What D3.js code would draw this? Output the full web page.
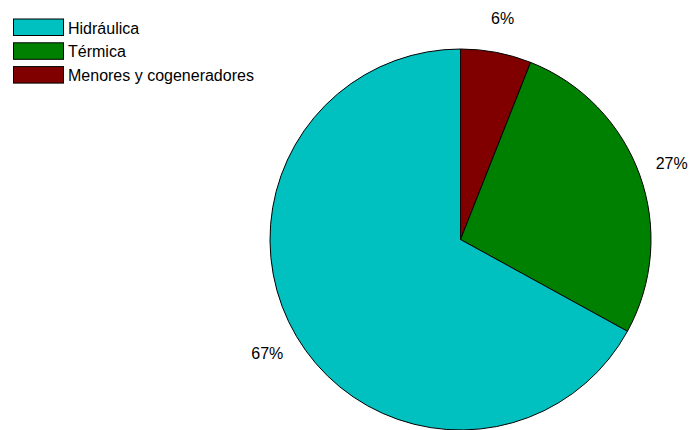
<!DOCTYPE html>
<html>
<head>
<meta charset="utf-8">
<script src="https://cdn.jsdelivr.net/npm/d3@7/dist/d3.min.js"></script>
<style>
  html, body { margin: 0; padding: 0; background: #fff; }
  svg { display: block; font-family: "Liberation Sans", Arial, sans-serif; }
</style>
</head>
<body>
<svg id="chart" width="694" height="430"></svg>
<script>
// Generation shares (percent)
const categories = ["Hidráulica", "Térmica", "Menores y cogeneradores"];
const values = [67, 27, 6];
const colors = ["#00C0C0", "#008000", "#800000"];
const labels = ["67%", "27%", "6%"];

const svg = d3.select("#chart");
const cx = 460.5, cy = 239.5, R = 190.5;

// Slices run clockwise from 12 o'clock: smallest first, largest last
const order = [2, 1, 0];
const pie = d3.pie().sort(null).value(i => values[i]);
const arcs = pie(order);

const arc = d3.arc().innerRadius(0).outerRadius(R);
const labelArc = d3.arc().innerRadius(R + 34).outerRadius(R + 34);

const g = svg.append("g").attr("transform", `translate(${cx},${cy})`);

g.selectAll("path.slice")
  .data(arcs)
  .join("path")
  .attr("class", "slice")
  .attr("d", arc)
  .attr("fill", d => colors[d.data])
  .attr("stroke", "#000")
  .attr("stroke-width", 1)
  .attr("stroke-linejoin", "round");

g.selectAll("text.pct")
  .data(arcs)
  .join("text")
  .attr("class", "pct")
  .attr("transform", d => {
    const [x, y] = labelArc.centroid(d);
    return `translate(${x},${y})`;
  })
  .attr("text-anchor", "middle")
  .attr("dominant-baseline", "central")
  .attr("font-size", 16)
  .attr("fill", "#000")
  .text(d => labels[d.data]);

// Legend
const legend = svg.append("g").attr("transform", "translate(13,18.5)");
const rowH = 23.8;
const item = legend.selectAll("g.item")
  .data(categories)
  .join("g")
  .attr("class", "item")
  .attr("transform", (d, i) => `translate(0,${i * rowH})`);

item.append("rect")
  .attr("x", 0.5).attr("y", 0.5)
  .attr("width", 50).attr("height", 16.5)
  .attr("fill", (d, i) => colors[i])
  .attr("stroke", "#000")
  .attr("stroke-width", 1);

item.append("text")
  .attr("x", 55)
  .attr("y", 9.5)
  .attr("dominant-baseline", "central")
  .attr("font-size", 16)
  .attr("fill", "#000")
  .text(d => d);
</script>
</body>
</html>
